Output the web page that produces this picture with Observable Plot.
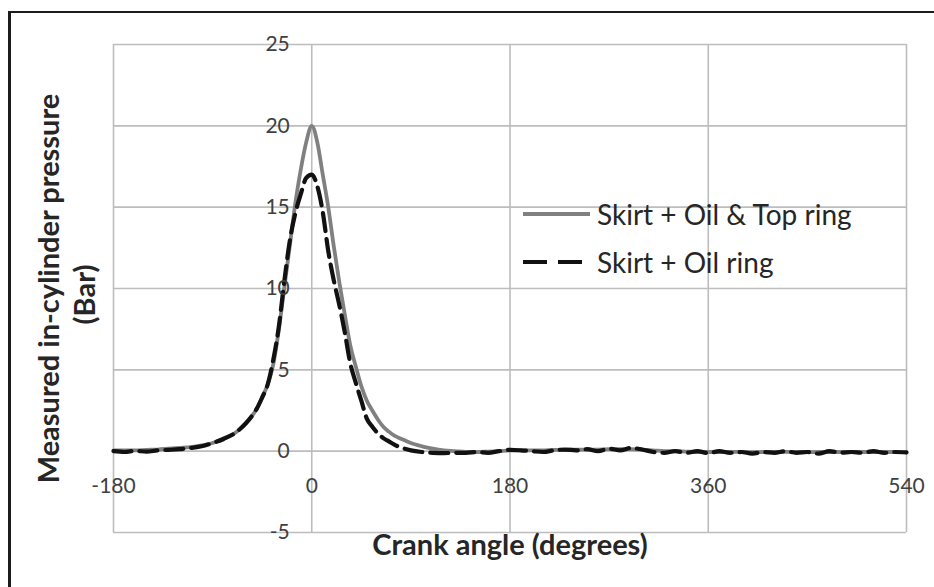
<!DOCTYPE html>
<html>
<head>
<meta charset="utf-8">
<script src="https://cdn.jsdelivr.net/npm/d3@7"></script>
<script src="https://cdn.jsdelivr.net/npm/@observablehq/plot@0.6"></script>
<style>
  html, body { margin: 0; padding: 0; background: #fff; }
  #wrap { position: relative; width: 934px; height: 587px; overflow: hidden; font-family: Lato, "Open Sans", sans-serif; }
  #frame { position: absolute; left: 8px; top: 11px; right: -10px; bottom: -10px; border-top: 2.5px solid #1c1c1c; border-left: 3px solid #1c1c1c; }
  #chart { position: absolute; left: 0; top: 0; }
  #legend { position: absolute; left: 0; top: 0; }
</style>
</head>
<body>
<div id="wrap">
  <div id="frame"></div>
  <div id="chart"></div>
  <svg id="legend" width="934" height="587"></svg>
</div>
<script>
// Crank angle (degrees)
const angle = [
  -180,-170,-160,-150,-140,-130,-120,-110,-100,-90,-80,-70,-60,
  -55,-50,-45,-40,-35,-30,-25,-20,-15,-10,-5,0,5,10,15,20,25,30,35,40,45,50,55,60,65,70,75,80,
  90,100,110,120,130,140,150,160,170,180,190,200,210,220,230,240,250,260,270,280,290,300,
  310,320,330,340,350,360,370,380,390,400,410,420,430,440,450,460,470,480,490,500,510,520,530,540
];
// Skirt + Oil & Top ring (solid grey), Bar
const topRing = [
  0.05,0.05,0.05,0.08,0.1,0.15,0.2,0.25,0.35,0.5,0.8,1.1,1.7,
  2.1,2.6,3.3,4.1,5.3,7.4,10.0,12.6,15.2,17.3,19.0,20.0,19.0,17.0,15.0,12.6,10.4,8.4,6.5,5.2,4.0,3.1,2.5,1.95,1.5,1.2,0.95,0.8,
  0.5,0.3,0.15,0.05,0.0,-0.05,-0.05,-0.03,0.0,0.05,0.05,0.05,0.05,0.08,0.08,0.1,0.1,0.1,0.12,0.12,0.12,0.1,
  0.05,0.0,0.0,-0.03,-0.05,-0.05,-0.05,-0.04,-0.05,-0.06,-0.05,-0.05,-0.04,-0.05,-0.06,-0.05,-0.05,-0.05,-0.04,-0.05,-0.05,-0.05,-0.05
];
// Skirt + Oil ring (dashed black), Bar
const oilRing = [
  0.0,-0.05,0.02,-0.03,0.05,0.08,0.12,0.2,0.3,0.5,0.75,1.1,1.7,
  2.1,2.6,3.3,4.1,5.6,7.6,10.4,12.9,14.6,15.8,16.8,17.0,16.3,14.7,12.3,10.5,9.0,7.3,5.4,4.2,3.1,2.0,1.5,1.1,0.8,0.6,0.4,0.25,
  0.05,-0.05,-0.1,-0.12,-0.1,-0.1,-0.05,-0.1,0.0,0.08,0.05,0.0,-0.05,0.05,0.1,0.05,0.12,0.0,0.15,0.05,0.2,0.1,
  -0.05,-0.1,0.0,-0.1,0.0,-0.12,0.0,-0.1,-0.05,-0.15,-0.05,-0.1,0.0,-0.1,-0.05,-0.15,0.0,-0.1,-0.05,-0.1,0.0,-0.1,-0.05,-0.08
];
const xTicks = [-180, 0, 180, 360, 540];
const yTicks = [-5, 0, 5, 10, 15, 20, 25];
const seriesNames = ["Skirt + Oil & Top ring", "Skirt + Oil ring"];
const xTitle = "Crank angle (degrees)";
const yTitle1 = "Measured in-cylinder pressure";
const yTitle2 = "(Bar)";

const data = angle.map((a, i) => ({angle: a, top: topRing[i], oil: oilRing[i]}));

const solidStyle = {stroke: "#808080", strokeWidth: 3.8};
const dashStyle = {stroke: "#111111", strokeWidth: 4.2, strokeDasharray: "18,8"};

const chart = Plot.plot({
  width: 934,
  height: 587,
  marginLeft: 113,
  marginRight: 28,
  marginTop: 44,
  marginBottom: 55,
  style: {fontFamily: "Lato, 'Open Sans', sans-serif", background: "transparent", overflow: "visible"},
  x: {domain: [-180, 540], axis: null},
  y: {domain: [-5, 25], axis: null},
  marks: [
    Plot.gridX(xTicks, {stroke: "#bdbdbd", strokeOpacity: 1, strokeWidth: 1.6}),
    Plot.gridY(yTicks, {stroke: "#bdbdbd", strokeOpacity: 1, strokeWidth: 1.6}),
    Plot.line(data, {x: "angle", y: "top", ...solidStyle, curve: "monotone-x"}),
    Plot.line(data, {x: "angle", y: "oil", ...dashStyle, curve: "monotone-x"}),
    Plot.text(yTicks, {x: 0, y: d => d, text: d => String(d), textAnchor: "end", dx: -22, fontSize: 21, fill: "#404040"}),
    Plot.text(xTicks, {x: d => d, y: 0, text: d => String(d), textAnchor: "middle", dy: 35, fontSize: 21, fill: "#404040"}),
    Plot.text([xTitle], {frameAnchor: "bottom", text: d => d, textAnchor: "middle", dy: 22, fontSize: 29, fontWeight: "bold", fill: "#262626"}),
    Plot.text([yTitle1], {frameAnchor: "left", text: d => d, textAnchor: "middle", rotate: -90, dx: -64, fontSize: 29, fontWeight: "bold", fill: "#262626"}),
    Plot.text([yTitle2], {frameAnchor: "left", text: d => d, textAnchor: "middle", rotate: -90, dx: -28, dy: 6, fontSize: 29, fontWeight: "bold", fill: "#262626"})
  ]
});
document.getElementById("chart").appendChild(chart);

// Legend
const lg = d3.select("#legend");
const items = [
  {name: seriesNames[0], y: 214, style: solidStyle},
  {name: seriesNames[1], y: 262, style: {...dashStyle, strokeDasharray: "24,11"}}
];
items.forEach(it => {
  const ln = lg.append("line").attr("x1", 523).attr("x2", 590).attr("y1", it.y).attr("y2", it.y)
    .attr("stroke", it.style.stroke).attr("stroke-width", it.style.strokeWidth);
  if (it.style.strokeDasharray) ln.attr("stroke-dasharray", it.style.strokeDasharray);
  lg.append("text").attr("x", 597).attr("y", it.y + 1).attr("dy", "0.35em")
    .attr("font-family", "Lato, 'Open Sans', sans-serif").attr("font-size", 28).attr("fill", "#262626")
    .text(it.name);
});
</script>
</body>
</html>
